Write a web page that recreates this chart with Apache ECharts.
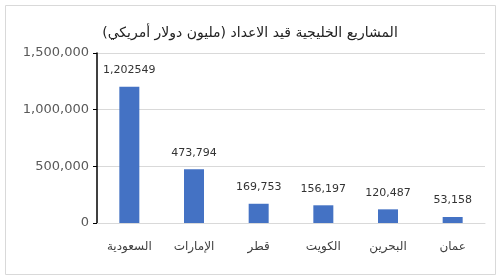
<!DOCTYPE html>
<html><head><meta charset="utf-8">
<script src="https://cdn.jsdelivr.net/npm/echarts@6/dist/echarts.min.js"></script>
<style>html,body{margin:0;padding:0;background:#fff}#c{width:500px;height:278px}</style>
</head><body><div id="c"></div>
<script>
const titleText = 'المشاريع الخليجية قيد الاعداد (مليون دولار أمريكي)';
const categories = ['السعودية','الإمارات','قطر','الكويت','البحرين','عمان'];
const values = [1202549, 473794, 169753, 156197, 120487, 53158];
const valueLabels = ['1,202549','473,794','169,753','156,197','120,487','53,158'];
const yTicks = [0, 500000, 1000000, 1500000];

const chart = echarts.init(document.getElementById('c'), null, {renderer:'canvas'});
const font = 'DejaVu Sans, Tahoma, sans-serif';
chart.setOption({
  animation:false,
  textStyle:{fontFamily:font},
  title:{text:titleText,left:'center',top:21,textStyle:{fontSize:14,fontWeight:'normal',color:'#222',fontFamily:font}},
  graphic:[{type:'rect',left:3,top:3,shape:{width:490,height:269},style:{fill:'none',stroke:'#d9d9d9',lineWidth:1},silent:true}],
  grid:{left:97,right:15,top:53,bottom:55},
  xAxis:{type:'category',data:categories,
    axisLine:{show:true,lineStyle:{color:'#d9d9d9'}},axisTick:{show:false},
    axisLabel:{color:'#404040',fontSize:12,margin:18,fontFamily:font}},
  yAxis:{type:'value',min:0,max:1500000,interval:500000,
    axisLine:{show:true,lineStyle:{color:'#000',width:1.5}},
    axisTick:{show:true,length:4,lineStyle:{color:'#000'}},
    splitLine:{lineStyle:{color:'#d9d9d9'}},
    axisLabel:{color:'#595959',fontSize:13,margin:8,fontFamily:font,
      formatter:v=>yTicks.includes(v)?v.toLocaleString('en-US'):''}},
  series:[{type:'bar',data:values,barWidth:20,
    itemStyle:{color:'#4472c4'},
    label:{show:true,position:'top',distance:11,color:'#333',fontSize:11,fontFamily:font,
      formatter:p=>valueLabels[p.dataIndex]}}]
});
</script></body></html>
